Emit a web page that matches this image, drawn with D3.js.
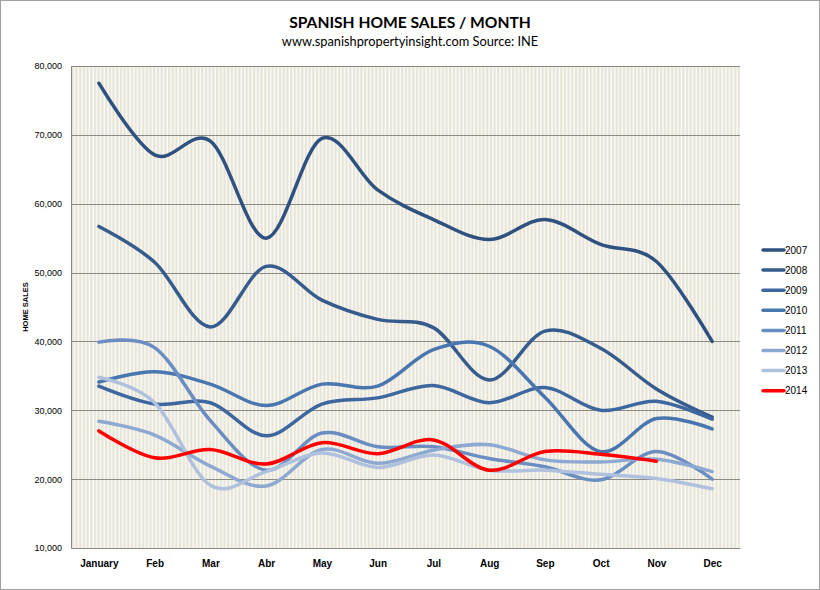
<!DOCTYPE html>
<html>
<head>
<meta charset="utf-8">
<script src="https://cdn.jsdelivr.net/npm/d3@7"></script>
<style>
  body { margin: 0; background: #fff; }
  svg { display: block; }
</style>
</head>
<body>
<div id="chart"></div>
<script>
// data
var months = ["January", "Feb", "Mar", "Abr", "May", "Jun", "Jul", "Aug", "Sep", "Oct", "Nov", "Dec"];
var years = ["2007", "2008", "2009", "2010", "2011", "2012", "2013", "2014"];
var yTicks = [10000, 20000, 30000, 40000, 50000, 60000, 70000, 80000];

var sales2007 = [77500, 67100, 69100, 55000, 69500, 62000, 57700, 54800, 57700, 54100, 51600, 40000];
var sales2008 = [56700, 51500, 42100, 50900, 46000, 43200, 42000, 34400, 41500, 39000, 33100, 29000];
var sales2009 = [33500, 30900, 31100, 26300, 30900, 31800, 33600, 31100, 33300, 30000, 31300, 28700];
var sales2010 = [34100, 35600, 33800, 30700, 33800, 33500, 38800, 39300, 31900, 24000, 28800, 27300];
var sales2011 = [39900, 39100, 28500, 21300, 26700, 24700, 24700, 23000, 21800, 19900, 24000, 20000];
var sales2012 = [28400, 26400, 21900, 19000, 24300, 22300, 24200, 25000, 22800, 22500, 22900, 21100];
var sales2013 = [34800, 31100, 19100, 21100, 23800, 21700, 23500, 21300, 21300, 20700, 20100, 18600];
var sales2014 = [27000, 23100, 24300, 22200, 25300, 23700, 25700, 21300, 24000, 23600, 22600];

var allSales = [sales2007, sales2008, sales2009, sales2010, sales2011, sales2012, sales2013, sales2014];
var colors = ["#2f5180", "#365c8e", "#3d679e", "#4a76b0", "#6a8dc2", "#8ea9d1", "#b0c1de", "#ff0000"];

var svgWidth = 820;
var svgHeight = 590;

var margin = { top: 66, right: 80, bottom: 42, left: 71 };
var width = 740 - margin.left;
var height = 548 - margin.top;

var svg = d3.select("#chart")
  .append("svg")
  .attr("width", svgWidth)
  .attr("height", svgHeight);

// outer frame
svg.append("rect")
  .attr("x", 0.5).attr("y", 0.5)
  .attr("width", svgWidth - 1).attr("height", svgHeight - 1)
  .attr("fill", "#fff")
  .attr("stroke", "#a0a0a0");

// striped plot background
var defs = svg.append("defs");
var pat = defs.append("pattern")
  .attr("id", "stripes")
  .attr("patternUnits", "userSpaceOnUse")
  .attr("width", 3.7).attr("height", 10)
  .attr("x", margin.left);
pat.append("rect").attr("width", 3.7).attr("height", 10).attr("fill", "#e8e5d8");
pat.append("rect").attr("x", 2.3).attr("width", 1.4).attr("height", 10).attr("fill", "#fbfbf8");

var chartGroup = svg.append("g")
  .attr("transform", `translate(${margin.left}, ${margin.top})`);

chartGroup.append("rect")
  .attr("width", width)
  .attr("height", height)
  .attr("fill", "url(#stripes)");

// scales
var xScale = d3.scalePoint()
  .domain(months)
  .range([0, width])
  .padding(0.5);

var yScale = d3.scaleLinear()
  .domain([10000, 80000])
  .range([height, 0]);

// gridlines
chartGroup.selectAll(".grid")
  .data(yTicks.slice(1))
  .enter()
  .append("line")
  .attr("x1", 0)
  .attr("x2", width)
  .attr("y1", d => Math.round(yScale(d)) + 0.5)
  .attr("y2", d => Math.round(yScale(d)) + 0.5)
  .attr("stroke", "#8c8a84")
  .attr("stroke-width", 1);

// axes
var leftAxis = d3.axisLeft(yScale)
  .tickValues(yTicks)
  .tickFormat(d3.format(","))
  .tickSize(0)
  .tickPadding(9);

var yAxis = chartGroup.append("g").call(leftAxis);
yAxis.select(".domain").attr("stroke", "#8c8a84");
yAxis.selectAll("text")
  .attr("font-family", "Liberation Sans, Arial, sans-serif")
  .attr("font-size", "9px")
  .attr("fill", "#000");

var bottomAxis = d3.axisBottom(xScale)
  .tickSize(0)
  .tickPadding(12);

var xAxis = chartGroup.append("g")
  .attr("transform", `translate(0, ${height})`)
  .call(bottomAxis);
xAxis.select(".domain").attr("stroke", "#8c8a84");
xAxis.selectAll("text")
  .attr("font-family", "Liberation Sans, Arial, sans-serif")
  .attr("font-size", "10px")
  .attr("font-weight", "bold")
  .attr("fill", "#000");

// y axis title
chartGroup.append("text")
  .attr("transform", "rotate(-90)")
  .attr("x", 0 - (yScale(45000)))
  .attr("y", 0 - 43)
  .attr("text-anchor", "middle")
  .attr("font-family", "Liberation Sans, Arial, sans-serif")
  .attr("font-size", "7.5px")
  .attr("font-weight", "bold")
  .text("HOME SALES");

// lines, Excel style smoothing
var line = d3.line()
  .x((d, i) => xScale(months[i]))
  .y(d => yScale(d))
  .curve(d3.curveCatmullRom.alpha(0));

chartGroup.selectAll(".series")
  .data(allSales)
  .enter()
  .append("path")
  .attr("d", d => line(d))
  .attr("fill", "none")
  .attr("stroke", (d, i) => colors[i])
  .attr("stroke-width", 3.5)
  .attr("stroke-linecap", "round")
  .attr("stroke-linejoin", "round");

// legend
var legend = svg.append("g")
  .attr("transform", "translate(763, 250)");

var items = legend.selectAll(".item")
  .data(years)
  .enter()
  .append("g")
  .attr("transform", (d, i) => `translate(0, ${i * 20.1})`);

items.append("line")
  .attr("x1", 0).attr("x2", 21)
  .attr("stroke", (d, i) => colors[i])
  .attr("stroke-width", 3.5)
  .attr("stroke-linecap", "round");

items.append("text")
  .attr("x", 22)
  .attr("y", 3.5)
  .attr("font-family", "Liberation Sans, Arial, sans-serif")
  .attr("font-size", "10px")
  .text(d => d);

// titles
svg.append("text")
  .attr("x", 410)
  .attr("y", 28)
  .attr("text-anchor", "middle")
  .attr("font-family", "Lato, sans-serif")
  .attr("font-size", "15.6px")
  .attr("font-weight", "bold")
  .text("SPANISH HOME SALES / MONTH");

svg.append("text")
  .attr("x", 410)
  .attr("y", 46)
  .attr("text-anchor", "middle")
  .attr("font-family", "Lato, sans-serif")
  .attr("font-size", "12.8px")
  .text("www.spanishpropertyinsight.com Source: INE");
</script>
</body>
</html>
